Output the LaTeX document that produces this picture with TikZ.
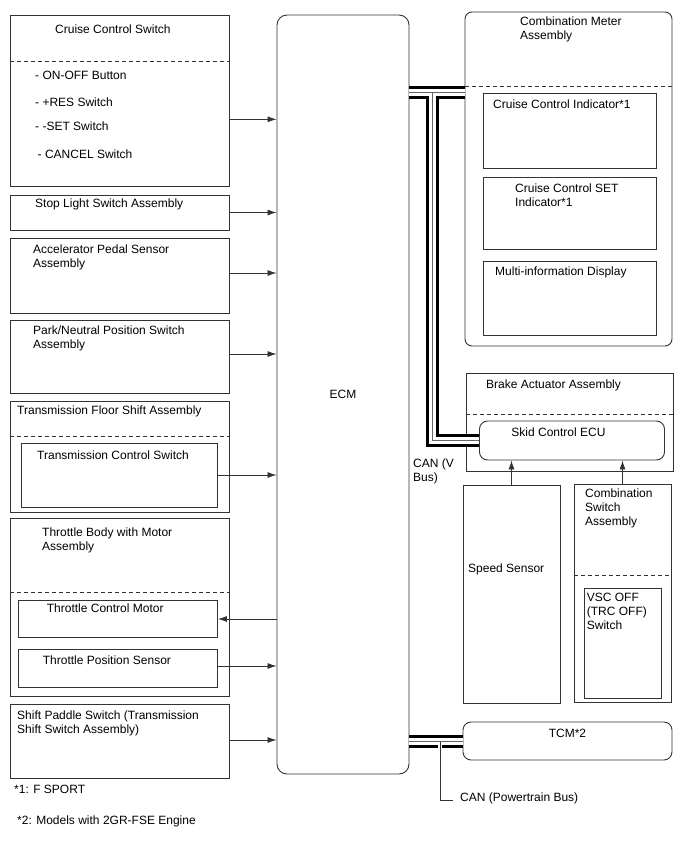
\documentclass[tikz,border=0pt]{standalone}
\usepackage{fontspec}
\setmainfont{Liberation Sans}
\usetikzlibrary{arrows.meta, positioning, calc}

\begin{document}
\begin{tikzpicture}[
    x=1pt, y=-1pt,
    box/.style={draw=black!80, line width=0.9pt, inner sep=0pt},
    rbox/.style={box, rounded corners=8pt},
    txt/.style={font=\fontsize{12}{14}\selectfont, inner sep=0pt, anchor=base west, align=left},
    sep/.style={draw=black!80, line width=0.9pt, dash pattern=on 4pt off 3pt},
    arr/.style={draw=black!80, line width=0.8pt, -{Latex[length=9pt, width=6pt]}},
    busout/.style={line width=13pt, draw=black, line join=miter},
    busin/.style={line width=7pt, draw=white, line join=miter},
    buscore/.style={line width=0.7pt, draw=black!60},
    >=Latex
]
\useasboundingbox (0,0) rectangle (688,852);

% Inputs on the left
\node[box, minimum width=219pt, minimum height=171pt] (ccs) at (119.5,100.5) {};
\draw[sep] (ccs.west |- 0,61.7) -- (ccs.east |- 0,61.7);
\node[txt] (ccs-t) at (55,33) {Cruise Control Switch};
\node[txt] (ccs-1) at (35,79) {- ON-OFF Button};
\node[txt] (ccs-2) at (35,106) {- +RES Switch};
\node[txt] (ccs-3) at (35,130) {- -SET Switch};
\node[txt] (ccs-4) at (37.5,158) {- CANCEL Switch};

\node[box, minimum width=219pt, minimum height=35pt] (sls) at (119.5,212.5) {};
\node[txt] (sls-t) at (35,207) {Stop Light Switch Assembly};

\node[box, minimum width=219pt, minimum height=75pt] (aps) at (119.5,275.5) {};
\node[txt] (aps-t) at (33,267) {Accelerator Pedal Sensor\\Assembly};

\node[box, minimum width=219pt, minimum height=73pt] (pnp) at (119.5,356.5) {};
\node[txt] (pnp-t) at (33,348) {Park/Neutral Position Switch\\Assembly};

\node[box, minimum width=219pt, minimum height=111pt] (tfs) at (119.5,456.5) {};
\draw[sep] (tfs.west |- 0,436.7) -- (tfs.east |- 0,436.7);
\node[txt] (tfs-t) at (17,414) {Transmission Floor Shift Assembly};
\node[box, minimum width=196pt, minimum height=64pt] (tcsw) at (119,475) {};
\node[txt] (tcsw-t) at (37,459) {Transmission Control Switch};

\node[box, minimum width=219pt, minimum height=178pt] (tbm) at (119.5,607.5) {};
\draw[sep] (tbm.west |- 0,592.7) -- (tbm.east |- 0,592.7);
\node[txt] (tbm-t) at (42,550) {Throttle Body with Motor\\Assembly};
\node[box, minimum width=199pt, minimum height=37pt] (tmot) at (118,619) {};
\node[txt] (tmot-t) at (46.7,612) {Throttle Control Motor};
\node[box, minimum width=199pt, minimum height=38pt] (tps) at (118,668) {};
\node[txt] (tps-t) at (42.7,664) {Throttle Position Sensor};

\node[box, minimum width=219pt, minimum height=74pt] (sps) at (119.5,741) {};
\node[txt] (sps-t) at (17,733.5) {Shift Paddle Switch (Transmission\\Shift Switch Assembly)};

% ECM
\node[rbox, rounded corners=10pt, minimum width=132pt, minimum height=759pt,
      font=\fontsize{12}{14}\selectfont] (ecm) at (343,394.5) {ECM};

% Combination meter
\node[rbox, rounded corners=7pt, minimum width=207pt, minimum height=334pt] (cma) at (568.5,179) {};
\draw[sep] (cma.west |- 0,86) -- (cma.east |- 0,86);
\node[txt] (cma-t) at (520,39) {Combination Meter\\Assembly};
\node[box, minimum width=173pt, minimum height=75pt] (cci) at (569.5,130.5) {};
\node[txt] (cci-t) at (493,108) {Cruise Control Indicator*1};
\node[box, minimum width=173pt, minimum height=72pt] (csi) at (569.5,213) {};
\node[txt] (csi-t) at (515,206) {Cruise Control SET\\Indicator*1};
\node[box, minimum width=173pt, minimum height=74pt] (mid) at (569.5,298) {};
\node[txt] (mid-t) at (495,275) {Multi-information Display};

% Brake actuator
\node[box, minimum width=207pt, minimum height=98pt] (baa) at (569.5,422.5) {};
\draw[sep] (baa.west |- 0,414.3) -- (baa.east |- 0,414.3);
\node[txt] (baa-t) at (486,388) {Brake Actuator Assembly};
\node[rbox, minimum width=185pt, minimum height=39pt] (sce) at (572,440.5) {};
\node[txt, anchor=base] (sce-t) at (558.5,436) {Skid Control ECU};

\node[box, minimum width=97pt, minimum height=218pt] (spd) at (511.5,594) {};
\node[txt] (spd-t) at (468,572) {Speed Sensor};

\node[box, minimum width=97pt, minimum height=218pt] (csa) at (622.5,593) {};
\draw[sep] (csa.west |- 0,575) -- (csa.east |- 0,575);
\node[txt] (csa-t) at (585,525) {Combination\\Switch\\Assembly};
\node[box, minimum width=77pt, minimum height=110pt] (vsc) at (622.5,643) {};
\node[txt] (vsc-t) at (586.7,629.7) {VSC OFF\\(TRC OFF)\\Switch};

\node[rbox, minimum width=209pt, minimum height=38pt] (tcm) at (567.5,741) {};
\node[txt, anchor=base] (tcm-t) at (567.5,737) {TCM*2};

% Signal arrows
\draw[arr] (ccs.east |- 0,119.3) -- (ecm.west |- 0,119.3);
\draw[arr] (sls.east) -- (ecm.west |- sls.east);
\draw[arr] (aps.east |- 0,273) -- (ecm.west |- 0,273);
\draw[arr] (pnp.east |- 0,354) -- (ecm.west |- 0,354);
\draw[arr] (tcsw.east) -- (ecm.west |- tcsw.east);
\draw[arr] (ecm.west |- tmot.east) -- (tmot.east);
\draw[arr] (tps.east |- 0,666) -- (ecm.west |- 0,666);
\draw[arr] (sps.east |- 0,740) -- (ecm.west |- 0,740);
\draw[arr] (spd.north) -- (spd.north |- sce.south);
\draw[arr] (csa.north) -- (csa.north |- sce.south);

% CAN buses
\coordinate (vtap) at (432,92);
\foreach \s in {busout, busin, buscore} {
  \draw[\s] (ecm.east |- vtap) -- (cma.west |- vtap);
  \draw[\s] (vtap) |- (sce.west);
  \draw[\s] (ecm.east |- tcm.west) -- (tcm.west);
}
\node[txt] (canv) at (413,481) {CAN (V\\Bus)};

\coordinate (ptap) at (440,741.5);
\coordinate (ptend) at (453,800);
\draw[draw=black!80, line width=0.8pt, preaction={draw=white, line width=3.5pt}] (ptap) |- (ptend);
\node[txt] (canpt) at (460,801) {CAN (Powertrain Bus)};

% Notes
\node[txt] (note1) at (14,793) {*1: F SPORT};
\node[txt] (note2) at (17,824) {*2: Models with 2GR-FSE Engine};

\end{tikzpicture}
\end{document}
